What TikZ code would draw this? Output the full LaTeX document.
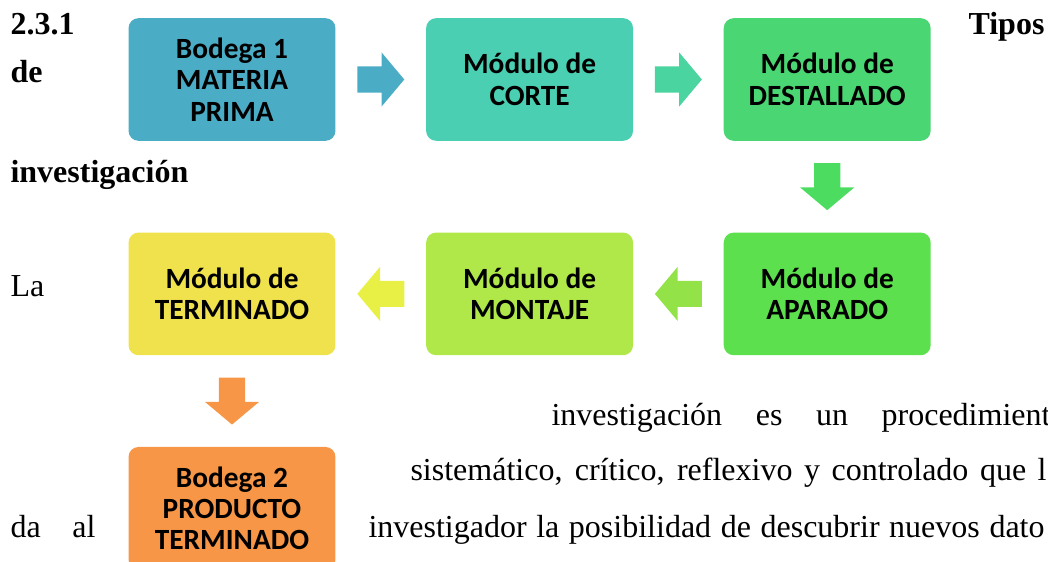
\documentclass[tikz,border=0pt]{standalone}
\usepackage{fontspec}
\setmainfont{Liberation Serif}
\newfontfamily\calfont{Carlito}
\usepackage{xcolor}
\definecolor{mfTeal}{RGB}{75,172,198}
\definecolor{mfAqua}{RGB}{74,207,178}
\definecolor{mfAquaD}{RGB}{74,212,160}
\definecolor{mfGreen}{RGB}{74,214,114}
\definecolor{mfGreenD}{RGB}{76,221,96}
\definecolor{mfGreenB}{RGB}{92,224,78}
\definecolor{mfLimeD}{RGB}{146,226,72}
\definecolor{mfLime}{RGB}{176,232,74}
\definecolor{mfYellowD}{RGB}{232,240,70}
\definecolor{mfYellow}{RGB}{240,226,76}
\definecolor{mfOrange}{RGB}{247,150,70}
\usepackage{tikz}
\usetikzlibrary{positioning,calc,shapes.arrows}

\begin{document}
\begin{tikzpicture}[x=0.375pt,y=-0.375pt,node distance=34pt and 33.6pt,
  o/.style={rounded corners=3.75pt,align=center,font=\calfont\bfseries\fontsize{11}{11.8}\selectfont,inner sep=0pt,minimum width=77.6pt,minimum height=46pt},
  a/.style={single arrow,draw=none,anchor=tail,inner xsep=0pt,inner ysep=4.7pt,minimum width=0pt,minimum height=17.6pt,single arrow head extend=5.25pt,single arrow tip angle=100},
  t/.style={anchor=base west,inner sep=0pt,font=\fontsize{12}{14}\selectfont},
  tb/.style={t,font=\fontsize{12}{14}\selectfont\bfseries}]
  \useasboundingbox (0,0) rectangle (1048,562);
  \clip (0,0) rectangle (1048,562);
  % text of the page behind the figure
  \node[tb] (sec) at (10,35) {2.3.1};
  \node[tb] (tipos) at (968,35) {Tipos};
  \node[tb] (de) at (10,83) {de};
  \node[tb] (inv) at (10,183) {investigación};
  \node[t] (la) at (10,297) {La};
  \node[t] (l1) at (551,425) {\makebox[187.1pt][s]{investigación es un procedimient}};
  \node[t] (l2) at (410,481) {\makebox[238.5pt][s]{sistemático, crítico, reflexivo y controlado que l}};
  \node[t] (da) at (10,537) {\makebox[31.9pt][s]{da al}};
  \node[t] (l3) at (368,537) {\makebox[253.5pt][s]{investigador la posibilidad de descubrir nuevos dato}};
  % process
  \node[o,fill=mfTeal] (bod1) at (232,79.5) {Bodega 1\\MATERIA\\PRIMA};
  \node[o,fill=mfAqua,right=of bod1] (corte) {Módulo de\\CORTE};
  \node[o,fill=mfGreen,right=of corte] (dest) {Módulo de\\DESTALLADO};
  \node[o,fill=mfGreenB,below=of dest] (apar) {Módulo de\\APARADO};
  \node[o,fill=mfLime,left=of apar] (mont) {Módulo de\\MONTAJE};
  \node[o,fill=mfYellow,left=of mont] (term) {Módulo de\\TERMINADO};
  \node[o,fill=mfOrange,below=of term] (bod2) {Bodega 2\\PRODUCTO\\TERMINADO};
  \node[a,fill=mfTeal] (a1) at ($(bod1.east)!0.5!(corte.west)+(-24,0)$) {};
  \node[a,fill=mfAquaD] (a2) at ($(corte.east)!0.5!(dest.west)+(-24,0)$) {};
  \node[a,fill=mfGreenD,rotate=-90] (a3) at ($(dest.south)!0.5!(apar.north)+(0,-24)$) {};
  \node[a,fill=mfLimeD,rotate=180] (a4) at ($(apar.west)!0.5!(mont.east)+(24,0)$) {};
  \node[a,fill=mfYellowD,rotate=180] (a5) at ($(mont.west)!0.5!(term.east)+(24,0)$) {};
  \node[a,fill=mfOrange,rotate=-90] (a6) at ($(term.south)!0.5!(bod2.north)+(0,-24)$) {};
\end{tikzpicture}
\end{document}
